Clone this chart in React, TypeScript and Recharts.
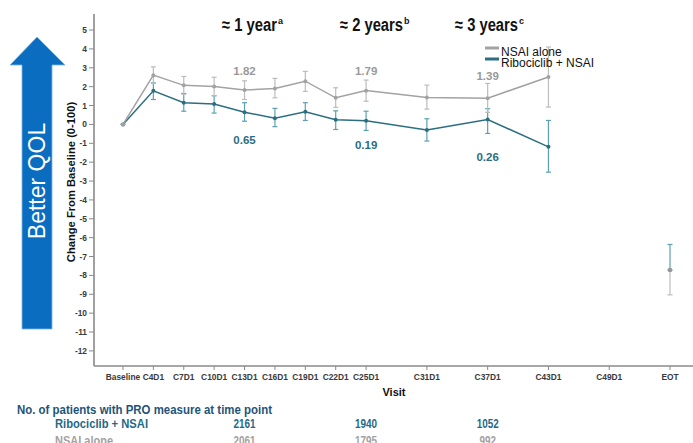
import { LineChart, Line, XAxis, YAxis, ErrorBar, LabelList } from "recharts";

// visits on the x axis (cycle number used as the numeric position)
const visitLabels = ["Baseline", "C4D1", "C7D1", "C10D1", "C13D1", "C16D1", "C19D1", "C22D1", "C25D1", "C31D1", "C37D1", "C43D1", "C49D1", "EOT"];
const visitCycles = [1, 4, 7, 10, 13, 16, 19, 22, 25, 31, 37, 43, 49, 55];

// visits that have a measured point on the connected lines
const lineVisits = ["Baseline", "C4D1", "C7D1", "C10D1", "C13D1", "C16D1", "C19D1", "C22D1", "C25D1", "C31D1", "C37D1", "C43D1"];

const nsaiMean = [0, 2.61, 2.07, 2.01, 1.82, 1.9, 2.29, 1.41, 1.79, 1.43, 1.39, 2.51];
const nsaiUpper = [0, 3.05, 2.54, 2.5, 2.31, 2.44, 2.81, 1.94, 2.35, 2.08, 2.17, 4.1];
const nsaiLower = [0, 2.17, 1.6, 1.52, 1.32, 1.41, 1.75, 0.9, 1.23, 0.81, 0.64, 0.92];

const ribMean = [0, 1.78, 1.15, 1.08, 0.65, 0.33, 0.67, 0.25, 0.19, -0.29, 0.26, -1.19];
const ribUpper = [0, 2.2, 1.64, 1.52, 1.15, 0.85, 1.15, 0.72, 0.7, 0.3, 0.83, 0.21];
const ribLower = [0, 1.32, 0.7, 0.6, 0.17, -0.12, 0.21, -0.27, -0.32, -0.88, -0.48, -2.53];

// end of treatment, drawn on its own
const nsaiEot = [-7.72, -7.72, -9.03]; // mean, upper, lower
const ribEot = [-7.72, -6.36, -7.72];

const labelledVisits = ["C13D1", "C25D1", "C37D1"];

// patients with PRO measure
const countVisits = ["C13D1", "C25D1", "C37D1"];
const ribCounts = [2161, 1940, 1052];
const nsaiCounts = [2061, 1795, 992];

const yTicks = [-12, -11, -10, -9, -8, -7, -6, -5, -4, -3, -2, -1, 0, 1, 2, 3, 4, 5];

const W = 693;
const H = 443;
const FONT = "'Liberation Sans', Arial, sans-serif";
const GRAY = "#a2a2a2";
const GRAY_ERR = "#bcbcbc";
const TEAL = "#2a6e80";
const TEAL_ERR = "#5c9fb2";
const AXIS = "#8a8a8a";

const cycleOf = (v: string) => visitCycles[visitLabels.indexOf(v)];

const lineRows = lineVisits.map((v, i) => ({
  visit: v,
  cycle: cycleOf(v),
  nsai: nsaiMean[i],
  nsaiErr: [nsaiMean[i] - nsaiLower[i], nsaiUpper[i] - nsaiMean[i]],
  rib: ribMean[i],
  ribErr: [ribMean[i] - ribLower[i], ribUpper[i] - ribMean[i]],
}));

const eotRows = [
  {
    visit: "EOT",
    cycle: cycleOf("EOT"),
    nsai: nsaiEot[0],
    nsaiErr: [nsaiEot[0] - nsaiEot[2], nsaiEot[1] - nsaiEot[0]],
    rib: ribEot[0],
    ribErr: [ribEot[0] - ribEot[2], ribEot[1] - ribEot[0]],
  },
];

const nsaiDy: Record<string, number> = { C13D1: -19, C25D1: -20, C37D1: -22 };
const ribDy: Record<string, number> = { C13D1: 28, C25D1: 24, C37D1: 37 };

function makeLabel(color: string, dyMap: Record<string, number>) {
  return (props: any) => {
    const { x, y, value, index } = props;
    const visit = lineVisits[index];
    if (!labelledVisits.includes(visit)) return null;
    return (
      <text
        x={x}
        y={y + dyMap[visit]}
        textAnchor="middle"
        dominantBaseline="central"
        fontFamily={FONT}
        fontSize={11.5}
        fontWeight="bold"
        fill={color}
      >
        {Number(value).toFixed(2)}
      </text>
    );
  };
}

// visit label plus, for some visits, the patient counts in the table below
function VisitTick(props: any) {
  const { x, y, payload } = props;
  const visit = visitLabels[visitCycles.indexOf(payload.value)];
  const ci = countVisits.indexOf(visit);
  return (
    <g>
      <text x={x} y={y + 8} textAnchor="middle" fontFamily={FONT} fontSize={8.4} fontWeight="bold" fill="#3a3a3a">
        {visit}
      </text>
      {ci >= 0 && (
        <g fontFamily={FONT} fontWeight="bold" fontSize={13} textAnchor="middle">
          <text x={x} y={428} fill="#1f6a86" textLength={22} lengthAdjust="spacingAndGlyphs">
            {ribCounts[ci]}
          </text>
          <text x={x} y={445} fill={GRAY} textLength={String(nsaiCounts[ci]).length * 5.5} lengthAdjust="spacingAndGlyphs">
            {nsaiCounts[ci]}
          </text>
        </g>
      )}
    </g>
  );
}

function Annotation({ x, w, text, sup }: { x: number; w: number; text: string; sup: string }) {
  return (
    <g fontFamily={FONT} fontWeight="bold" fill="#111">
      <text x={x} y={31} fontSize={18} textLength={w} lengthAdjust="spacingAndGlyphs">
        {text}
      </text>
      <text x={x + w + 1} y={24} fontSize={9}>
        {sup}
      </text>
    </g>
  );
}

function Overlay() {
  return (
    <svg width={W} height={H} style={{ position: "absolute", left: 0, top: 0, pointerEvents: "none" }}>
      {/* Better QOL arrow */}
      <polygon points="37,37 65,65 52,65 52,329 22,329 22,65 10,65" fill="#0a6dc0" stroke="#7fb6e6" strokeWidth={0.8} />
      <text transform="translate(45,181) rotate(-90)" textAnchor="middle" fontFamily={FONT} fontSize={23} fill="#ffffff">
        Better QOL
      </text>
      {/* y axis title */}
      <text transform="translate(75,182) rotate(-90)" textAnchor="middle" fontFamily={FONT} fontSize={11.2} fontWeight="bold" fill="#111">
        Change From Baseline (0-100)
      </text>
      {/* x axis title */}
      <text x={394} y={396} textAnchor="middle" fontFamily={FONT} fontSize={11} fontWeight="bold" fill="#111">
        Visit
      </text>
      {/* time annotations */}
      <Annotation x={222} w={55} text="≈ 1 year" sup="a" />
      <Annotation x={340} w={63} text="≈ 2 years" sup="b" />
      <Annotation x={455} w={63} text="≈ 3 years" sup="c" />
      {/* legend */}
      <line x1={485} x2={499} y1={48} y2={48} stroke={GRAY} strokeWidth={3} />
      <line x1={485} x2={499} y1={59} y2={59} stroke={TEAL} strokeWidth={3} />
      <g fontFamily={FONT} fontSize={12} fill="#111">
        <text x={501} y={56}>NSAI alone</text>
        <text x={501} y={66.5}>Ribociclib + NSAI</text>
      </g>
      {/* patient table */}
      <g fontFamily={FONT} fontWeight="bold" fontSize={13}>
        <text x={17} y={414} fill="#1e5478" textLength={255} lengthAdjust="spacingAndGlyphs">
          No. of patients with PRO measure at time point
        </text>
        <text x={55} y={428} fill="#1f6a86" textLength={93} lengthAdjust="spacingAndGlyphs">
          Ribociclib + NSAI
        </text>
        <text x={55} y={445} fill={GRAY} textLength={58} lengthAdjust="spacingAndGlyphs">
          NSAI alone
        </text>
      </g>
    </svg>
  );
}

export default function App() {
  return (
    <div style={{ position: "absolute", left: 0, top: 0, width: W, height: H, background: "#fff", overflow: "hidden" }}>
      <LineChart width={W} height={H} margin={{ top: 14, right: 0, bottom: 47, left: 0 }}>
        <XAxis
          dataKey="cycle"
          type="number"
          domain={[-1.86, 57.27]}
          ticks={visitCycles}
          interval={0}
          allowDataOverflow
          height={30}
          tick={<VisitTick />}
          tickSize={4}
          axisLine={{ stroke: AXIS, strokeWidth: 1.6 }}
          tickLine={{ stroke: AXIS }}
        />
        <YAxis
          type="number"
          domain={[-12.8, 5.85]}
          ticks={yTicks}
          interval={0}
          allowDataOverflow
          width={94}
          tickSize={5}
          tick={{ fontSize: 8.4, fontWeight: "bold", fill: "#3a3a3a", fontFamily: FONT }}
          axisLine={{ stroke: AXIS, strokeWidth: 1.6 }}
          tickLine={{ stroke: AXIS }}
        />
        <Line
          data={lineRows}
          dataKey="rib"
          stroke={TEAL}
          strokeWidth={1.5}
          dot={{ r: 2, fill: TEAL, stroke: "none" }}
          activeDot={false}
          isAnimationActive={false}
        >
          <ErrorBar dataKey="ribErr" width={2.5} stroke={TEAL_ERR} strokeWidth={1.2} direction="y" />
          <LabelList dataKey="rib" content={makeLabel(TEAL, ribDy)} />
        </Line>
        <Line
          data={lineRows}
          dataKey="nsai"
          stroke={GRAY}
          strokeWidth={1.5}
          dot={{ r: 2, fill: GRAY, stroke: "none" }}
          activeDot={false}
          isAnimationActive={false}
        >
          <ErrorBar dataKey="nsaiErr" width={2.5} stroke={GRAY_ERR} strokeWidth={1.2} direction="y" />
          <LabelList dataKey="nsai" content={makeLabel("#999999", nsaiDy)} />
        </Line>
        <Line
          data={eotRows}
          dataKey="rib"
          stroke={TEAL}
          dot={{ r: 2, fill: TEAL, stroke: "none" }}
          activeDot={false}
          isAnimationActive={false}
        >
          <ErrorBar dataKey="ribErr" width={2.5} stroke={TEAL_ERR} strokeWidth={1.2} direction="y" />
        </Line>
        <Line
          data={eotRows}
          dataKey="nsai"
          stroke={GRAY}
          dot={{ r: 2.2, fill: "#999", stroke: "none" }}
          activeDot={false}
          isAnimationActive={false}
        >
          <ErrorBar dataKey="nsaiErr" width={2.5} stroke={GRAY_ERR} strokeWidth={1.2} direction="y" />
        </Line>
      </LineChart>
      <Overlay />
    </div>
  );
}
